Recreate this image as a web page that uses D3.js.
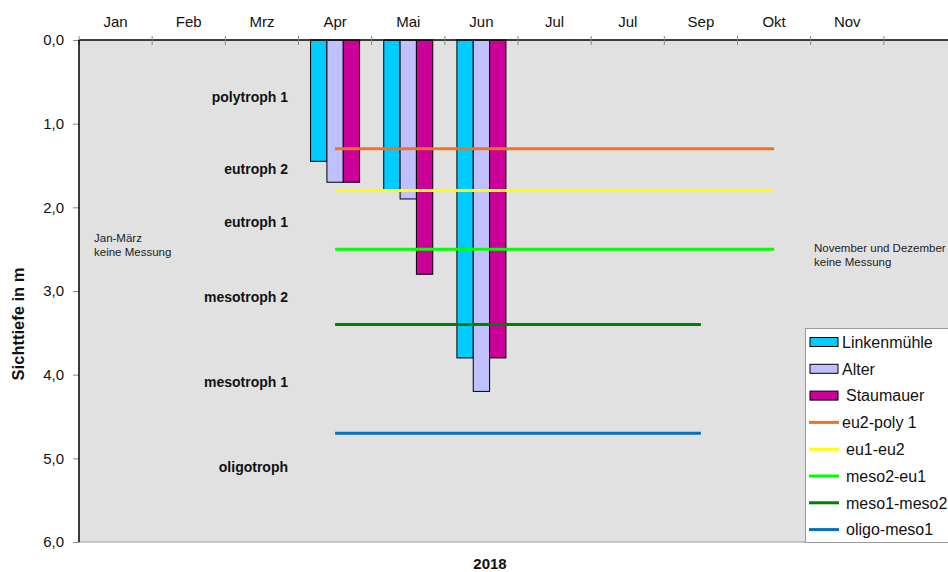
<!DOCTYPE html>
<html><head><meta charset="utf-8">
<script src="https://cdn.jsdelivr.net/npm/d3@7"></script>
<style>body{margin:0;background:#fff}svg{display:block;font-family:"Liberation Sans",Arial,sans-serif}</style>
</head><body>
<svg id="c" width="948" height="572"></svg>
<script>
const months = ["Jan","Feb","Mrz","Apr","Mai","Jun","Jul","Jul","Sep","Okt","Nov",""];
const linkenmuehle = [null,null,null,1.45,1.8,3.8,null,null,null,null,null,null];
const alter        = [null,null,null,1.7,1.9,4.2,null,null,null,null,null,null];
const staumauer    = [null,null,null,1.7,2.8,3.8,null,null,null,null,null,null];
const eu2poly1   = [null,null,null,1.3,1.3,1.3,1.3,1.3,1.3,1.3,null,null];
const eu1eu2     = [null,null,null,1.8,1.8,1.8,1.8,1.8,1.8,1.8,null,null];
const meso2eu1   = [null,null,null,2.5,2.5,2.5,2.5,2.5,2.5,2.5,null,null];
const meso1meso2 = [null,null,null,3.4,3.4,3.4,3.4,3.4,3.4,null,null,null];
const oligomeso1 = [null,null,null,4.7,4.7,4.7,4.7,4.7,4.7,null,null,null];
const yTicks = [0,1,2,3,4,5,6];
const zones = [["polytroph 1",0.68],["eutroph 2",1.54],["eutroph 1",2.18],["mesotroph 2",3.07],["mesotroph 1",4.09],["oligotroph",5.1]];

const barSeries = [
  {name:"Linkenmühle", values:linkenmuehle, color:"#00CCFF"},
  {name:"Alter", values:alter, color:"#C0C0FF"},
  {name:"Staumauer", values:staumauer, color:"#CC0099"}
];
const lineSeries = [
  {name:"eu2-poly 1", values:eu2poly1, color:"#EC7422"},
  {name:"eu1-eu2", values:eu1eu2, color:"#FFFF00"},
  {name:"meso2-eu1", values:meso2eu1, color:"#00FF00"},
  {name:"meso1-meso2", values:meso1meso2, color:"#008000"},
  {name:"oligo-meso1", values:oligomeso1, color:"#0070C0"}
];

const svg = d3.select("#c");
const L = 79, T = 40, R = 957, B = 542;
const x = d3.scaleBand().domain(d3.range(months.length)).range([L,R]);
const y = d3.scaleLinear().domain([0,6]).range([T,B]);
const inner = d3.scaleBand().domain(d3.range(barSeries.length)).range([0, x.bandwidth()*0.67]);
const off = (x.bandwidth() - x.bandwidth()*0.67)/2;

svg.append("rect").attr("x",L).attr("y",T).attr("width",R-L).attr("height",B-T).attr("fill","#E1E1E1");
svg.append("line").attr("x1",L).attr("x2",R).attr("y1",B).attr("y2",B).attr("stroke","#9a9a9a");

// bars
barSeries.forEach((s,si)=>{
  svg.append("g").selectAll("rect").data(s.values.map((v,i)=>({v,i})).filter(d=>d.v!=null))
    .join("rect")
    .attr("x",d=>x(d.i)+off+inner(si)).attr("width",inner.bandwidth())
    .attr("y",y(0)).attr("height",d=>y(d.v)-y(0))
    .attr("fill",s.color).attr("stroke","#000").attr("stroke-width",1);
});
// lines
lineSeries.forEach(s=>{
  const pts = s.values.map((v,i)=>({v,i})).filter(d=>d.v!=null);
  svg.append("path").datum(pts)
    .attr("d",d3.line().x(d=>x(d.i)+x.bandwidth()/2).y(d=>y(d.v)))
    .attr("fill","none").attr("stroke",s.color).attr("stroke-width",3);
});

// top axis
const ax = svg.append("g").attr("transform",`translate(0,${T})`)
  .call(d3.axisTop(x).tickSize(0).tickFormat(i=>months[i]));
ax.select(".domain").remove();
ax.selectAll("text").attr("font-size",15).attr("fill","#111").attr("dy","-0.6em").attr("y",-4);
svg.append("line").attr("x1",L).attr("x2",948).attr("y1",T).attr("y2",T).attr("stroke","#000").attr("stroke-width",1.5);
svg.append("g").selectAll("line").data(d3.range(months.length+1)).join("line")
  .attr("x1",i=>L+i*x.step()).attr("x2",i=>L+i*x.step()).attr("y1",T-4).attr("y2",T+5).attr("stroke","#888");

// left axis
const ay = svg.append("g").attr("transform",`translate(${L},0)`)
  .call(d3.axisLeft(y).tickValues(yTicks).tickSize(6).tickFormat(d=>d3.format(".1f")(d).replace(".",",")));
ay.select(".domain").remove();
ay.selectAll("line").attr("stroke","#888");
ay.selectAll("text").attr("font-size",15).attr("fill","#111").attr("x",-15);
svg.append("line").attr("x1",L).attr("x2",L).attr("y1",T).attr("y2",B).attr("stroke","#000").attr("stroke-width",1.5);

// zone labels
svg.append("g").selectAll("text").data(zones).join("text")
  .attr("x",288).attr("y",d=>y(d[1])).attr("dy","0.35em").attr("text-anchor","end")
  .attr("font-size",14).attr("font-weight","bold").attr("fill","#111").text(d=>d[0]);

// notes
const note = (tx,ty,lines)=>{
  const t = svg.append("text").attr("x",tx).attr("y",ty).attr("font-size",11.5).attr("fill","#222");
  lines.forEach((l,i)=>t.append("tspan").attr("x",tx).attr("dy",i?14:0).text(l));
};
note(94,242,["Jan-März","keine Messung"]);
note(814,252,["November und Dezember","keine Messung"]);

// titles
svg.append("text").attr("transform","translate(23.5,324) rotate(-90)").attr("text-anchor","middle")
  .attr("font-size",16.5).attr("font-weight","bold").attr("fill","#111").text("Sichttiefe in m");
svg.append("text").attr("x",490).attr("y",569).attr("text-anchor","middle")
  .attr("font-size",15).attr("font-weight","bold").attr("fill","#111").text("2018");

// legend
const lg = svg.append("g");
lg.append("rect").attr("x",805.5).attr("y",328.5).attr("width",160).attr("height",214).attr("fill","#fff").attr("stroke","#999");
const items = barSeries.map(s=>({...s,type:"bar"})).concat(lineSeries.map(s=>({...s,type:"line"})));
const pad = ["","",' ','',' ',' ',' ',' '];
items.forEach((it,i)=>{
  const cy = 342 + i*26.8;
  if(it.type==="bar"){
    lg.append("rect").attr("x",810).attr("y",cy-4.5).attr("width",28).attr("height",9).attr("fill",it.color).attr("stroke","#000").attr("stroke-width",1);
  } else {
    lg.append("line").attr("x1",809).attr("x2",839).attr("y1",cy).attr("y2",cy).attr("stroke",it.color).attr("stroke-width",3);
  }
  lg.append("text").attr("x",(pad[i]?846:842)).attr("y",cy).attr("dy","0.36em").attr("font-size",16).attr("fill","#111").text(it.name);
});
</script>
</body></html>
